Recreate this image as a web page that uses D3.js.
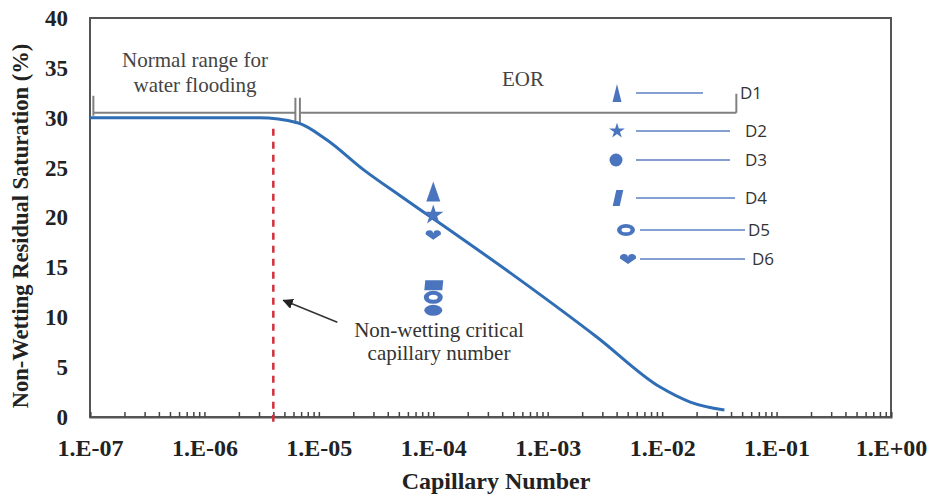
<!DOCTYPE html>
<html>
<head>
<meta charset="utf-8">
<script src="https://cdn.jsdelivr.net/npm/d3@7"></script>
<style>
  body { margin: 0; background: #fff; }
  svg { display: block; }
</style>
</head>
<body>
<svg id="chart"></svg>
<script>
const width = 933;
const height = 497;
const margin = { top: 18, right: 42, bottom: 80, left: 90 };

// desaturation curve
const capillary = [1e-7, 1.5e-6, 3e-6, 6.5e-6, 1.17e-5, 2.45e-5, 5.1e-5, 1.15e-4, 5.8e-4, 2.7e-3, 9.6e-3, 1.76e-2, 3.5e-2];
const saturation = [30, 30, 30, 29.5, 27.8, 24.8, 22.2, 19.4, 13.7, 8.0, 3.0, 1.5, 0.7];

// measured samples
const samples = ["D1", "D2", "D3", "D4", "D5", "D6"];
const sampleShapes = ["cone", "star", "circle", "bar", "ring", "heart"];
const sampleCapillary = [1e-4, 1e-4, 1e-4, 1e-4, 1e-4, 1e-4];
const sampleSaturation = [22.6, 20.25, 10.7, 13.2, 12.0, 18.25];

const xTickValues = [1e-7, 1e-6, 1e-5, 1e-4, 1e-3, 1e-2, 1e-1, 1];
const xTickLabels = ["1.E-07", "1.E-06", "1.E-05", "1.E-04", "1.E-03", "1.E-02", "1.E-01", "1.E+00"];
const yTickValues = [0, 5, 10, 15, 20, 25, 30, 35, 40];

const criticalCapillary = 4e-6;
const normalRange = [1.07e-7, 6.3e-6];
const eorRange = [6.9e-6, 4.45e-2];
const rangeLevel = 30.5;

const serif = "'Liberation Serif', 'Times New Roman', serif";
const blue = "#2f6db5";
const markBlue = "#4a74bd";

const svg = d3.select("#chart")
  .attr("width", width)
  .attr("height", height)
  .attr("viewBox", [0, 0, width, height]);

const x = d3.scaleLog()
  .domain([1e-7, 1])
  .range([margin.left, width - margin.right]);

const y = d3.scaleLinear()
  .domain([0, 40])
  .range([height - margin.bottom, margin.top]);

function ellipse(rx, ry, sweep = 1) {
  return `M${-rx},0A${rx},${ry} 0 1 ${sweep} ${rx},0A${rx},${ry} 0 1 ${sweep} ${-rx},0Z`;
}

// marker shapes, s = scale of the shape
function shapePath(shape, s) {
  switch (shape) {
    case "cone": {
      const w = 4.5 * s, h = 9 * s;
      return `M0,${-h}L${w},${h}L${-w},${h}Z`;
    }
    case "star":
      return d3.symbol(d3.symbolStar, 75 * s * s)();
    case "circle":
      return ellipse(6.5 * s, 6.5 * s);
    case "bar": {
      const w = 3.5 * s, h = 8 * s, k = 1.8 * s;
      return `M${-w + k},${-h}L${w + k},${-h}L${w - k},${h}L${-w - k},${h}Z`;
    }
    case "ring":
      return ellipse(9 * s, 6 * s) + ellipse(4.5 * s, 2.3 * s, 0);
    case "heart": {
      const w = 8 * s, h = 5 * s;
      return `M0,${h}L${-w},${-h * 0.1}A${w / 2},${w / 2} 0 0 1 0,${-h * 0.3}` +
        `A${w / 2},${w / 2} 0 0 1 ${w},${-h * 0.1}Z`;
    }
  }
}

// plot-area marker shapes differ a little from the legend ones
const plotShape = {
  cone: () => `M0,-10L7,10L-7,10Z`,
  star: () => shapePath("star", 1.3),
  circle: () => ellipse(9, 5.5),
  bar: () => `M-8,-5L10,-5L9,5L-9,5Z`,
  ring: () => ellipse(9.5, 6.5) + ellipse(4.5, 2.5, 0),
  heart: () => shapePath("heart", 0.95)
};

// frame
svg.append("rect")
  .attr("x", x.range()[0])
  .attr("y", y.range()[1])
  .attr("width", x.range()[1] - x.range()[0])
  .attr("height", y.range()[0] - y.range()[1])
  .attr("fill", "none")
  .attr("stroke", "#555")
  .attr("stroke-width", 2);

// x axis with log minor ticks pointing inward
const xAxis = svg.append("g")
  .attr("transform", `translate(0,${y(0)})`)
  .call(d3.axisBottom(x)
    .tickValues(x.ticks())
    .tickSize(-5)
    .tickPadding(22)
    .tickFormat(d => {
      const i = xTickValues.findIndex(v => Math.abs(Math.log10(v) - Math.log10(d)) < 1e-6);
      return i >= 0 ? xTickLabels[i] : "";
    }));
xAxis.select(".domain").attr("stroke", "#555").attr("stroke-width", 2);
xAxis.selectAll(".tick line").attr("stroke", "#444").attr("stroke-width", 1.5);
xAxis.selectAll(".tick text")
  .attr("font-family", serif)
  .attr("font-weight", "bold")
  .attr("font-size", 24)
  .attr("fill", "#222");

const yAxis = svg.append("g")
  .attr("transform", `translate(${margin.left},0)`)
  .call(d3.axisLeft(y).tickValues(yTickValues).tickSize(0).tickPadding(22));
yAxis.select(".domain").remove();
yAxis.selectAll(".tick text")
  .attr("font-family", serif)
  .attr("font-weight", "bold")
  .attr("font-size", 23)
  .attr("fill", "#222");

svg.append("text")
  .attr("x", 496)
  .attr("y", 489)
  .attr("text-anchor", "middle")
  .attr("font-family", serif)
  .attr("font-weight", "bold")
  .attr("font-size", 24)
  .attr("fill", "#222")
  .text("Capillary Number");

svg.append("text")
  .attr("transform", "rotate(-90)")
  .attr("x", -226)
  .attr("y", 28)
  .attr("text-anchor", "middle")
  .attr("font-family", serif)
  .attr("font-weight", "bold")
  .attr("font-size", 22.5)
  .attr("fill", "#222")
  .text("Non-Wetting Residual Saturation (%)");

// range brackets
const ry = y(rangeLevel);
const bracket = svg.append("g").attr("stroke", "#808080").attr("stroke-width", 2);
bracket.append("line")
  .attr("x1", x(normalRange[0])).attr("x2", x(normalRange[1]))
  .attr("y1", ry).attr("y2", ry);
bracket.append("line")
  .attr("x1", x(eorRange[0])).attr("x2", x(eorRange[1]))
  .attr("y1", ry).attr("y2", ry);
bracket.append("line")
  .attr("x1", x(normalRange[0])).attr("x2", x(normalRange[0]))
  .attr("y1", ry - 17).attr("y2", ry + 3);
[normalRange[1], eorRange[0]].forEach(v => {
  bracket.append("line")
    .attr("x1", x(v) - 0.5).attr("x2", x(v) - 0.5)
    .attr("y1", ry - 15).attr("y2", ry + 11);
});
bracket.append("line")
  .attr("x1", x(eorRange[1])).attr("x2", x(eorRange[1]))
  .attr("y1", ry - 19).attr("y2", ry);

const normalLabel = svg.append("text")
  .attr("font-family", serif)
  .attr("font-size", 21)
  .attr("fill", "#444")
  .attr("text-anchor", "middle");
normalLabel.append("tspan").attr("x", 195).attr("y", 67).text("Normal range for");
normalLabel.append("tspan").attr("x", 195).attr("y", 92).text("water flooding");

svg.append("text")
  .attr("x", 523)
  .attr("y", 86)
  .attr("text-anchor", "middle")
  .attr("font-family", serif)
  .attr("font-size", 21)
  .attr("fill", "#444")
  .text("EOR");

// critical capillary number marker
svg.append("line")
  .attr("x1", x(criticalCapillary)).attr("x2", x(criticalCapillary))
  .attr("y1", y(28.9)).attr("y2", y(0) + 6)
  .attr("stroke", "#d1303a")
  .attr("stroke-width", 2.5)
  .attr("stroke-dasharray", "7,6");

// the curve
const line = d3.line()
  .x((d, i) => x(capillary[i]))
  .y(d => y(d))
  .curve(d3.curveMonotoneX);

svg.append("path")
  .datum(saturation)
  .attr("fill", "none")
  .attr("stroke", blue)
  .attr("stroke-width", 3)
  .attr("d", line);

// sample points
svg.append("g")
  .selectAll("path")
  .data(samples)
  .join("path")
  .attr("transform", (d, i) => `translate(${x(sampleCapillary[i])},${y(sampleSaturation[i])})`)
  .attr("d", (d, i) => plotShape[sampleShapes[i]]())
  .attr("fill", markBlue)
  .attr("fill-rule", "evenodd");

// annotation
svg.append("defs").append("marker")
  .attr("id", "arrow")
  .attr("viewBox", "0 0 10 10")
  .attr("refX", 9).attr("refY", 5)
  .attr("markerWidth", 7).attr("markerHeight", 7)
  .attr("orient", "auto")
  .append("path")
  .attr("d", "M0,0L10,5L0,10Z")
  .attr("fill", "#222");

svg.append("line")
  .attr("x1", x(1.45e-5)).attr("y1", y(9.5))
  .attr("x2", x(4.9e-6)).attr("y2", y(11.7))
  .attr("stroke", "#333")
  .attr("stroke-width", 1.5)
  .attr("marker-end", "url(#arrow)");

const note = svg.append("text")
  .attr("font-family", serif)
  .attr("font-size", 21)
  .attr("fill", "#333")
  .attr("text-anchor", "middle");
note.append("tspan").attr("x", 439).attr("y", 337).text("Non-wetting critical");
note.append("tspan").attr("x", 439).attr("y", 360).text("capillary number");

// legend (hand drawn in the original, rows are not evenly spaced)
const legendRows = [
  { y: 93, mx: 617, x1: 636, x2: 703, tx: 740 },
  { y: 131, mx: 617, x1: 636, x2: 730, tx: 745 },
  { y: 160, mx: 616, x1: 636, x2: 730, tx: 745 },
  { y: 198, mx: 618, x1: 636, x2: 735, tx: 745 },
  { y: 230, mx: 626, x1: 640, x2: 745, tx: 748 },
  { y: 259, mx: 628, x1: 640, x2: 745, tx: 752 }
];

const legend = svg.append("g")
  .selectAll("g")
  .data(samples)
  .join("g")
  .attr("transform", (d, i) => `translate(0,${legendRows[i].y})`);

legend.append("line")
  .attr("x1", (d, i) => legendRows[i].x1)
  .attr("x2", (d, i) => legendRows[i].x2)
  .attr("stroke", "#5b7fc0")
  .attr("stroke-width", 1.5);

legend.append("path")
  .attr("transform", (d, i) => `translate(${legendRows[i].mx},0)`)
  .attr("d", (d, i) => shapePath(sampleShapes[i], 1))
  .attr("fill", markBlue)
  .attr("fill-rule", "evenodd");

legend.append("text")
  .attr("x", (d, i) => legendRows[i].tx)
  .attr("dy", "0.35em")
  .attr("font-family", "'Open Sans', sans-serif")
  .attr("font-size", 17)
  .attr("fill", "#333")
  .text(d => d);
</script>
</body>
</html>
